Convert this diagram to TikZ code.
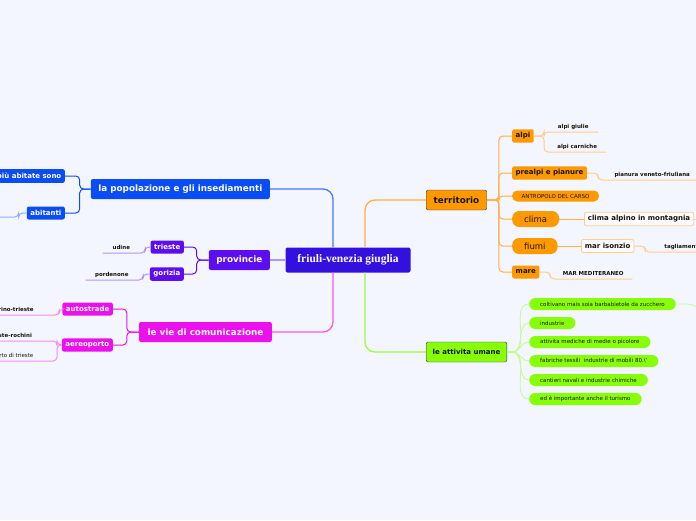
\documentclass[tikz,border=0pt]{standalone}
\usepackage{fontspec}
\setmainfont{Liberation Serif}
\setsansfont{DejaVu Sans}
\definecolor{bgcol}{RGB}{243,246,254}
\definecolor{fvgcol}{RGB}{52,16,222}
\definecolor{popcol}{RGB}{10,76,245}
\definecolor{provcol}{RGB}{92,14,240}
\definecolor{viecol}{RGB}{236,16,236}
\definecolor{tercol}{RGB}{255,153,0}
\definecolor{actcol}{RGB}{136,255,10}
\definecolor{framecol}{RGB}{55,55,55}
\definecolor{darktext}{RGB}{25,20,10}
\definecolor{lightbox}{RGB}{250,250,255}
\definecolor{linkblue}{RGB}{70,120,250}
\definecolor{linkmag}{RGB}{240,90,240}
\definecolor{linkorange}{RGB}{255,175,70}
\definecolor{linkgreen}{RGB}{160,250,60}
\definecolor{linkpurple}{RGB}{175,150,245}
\definecolor{leafline}{RGB}{255,205,140}
\definecolor{greenline}{RGB}{195,250,150}
\tikzset{
  topic/.style={rounded corners=2pt, text=white, inner xsep=7.5pt, minimum height=20pt,
    font=\sffamily\bfseries\fontsize{8.8}{10}\selectfont},
  subtopic/.style={rounded corners=2pt, text=white, inner xsep=3.5pt, minimum height=13pt,
    font=\sffamily\bfseries\fontsize{7}{8}\selectfont},
  terbox/.style={subtopic, fill=tercol, text=darktext, anchor=west},
  terpill/.style={rounded corners=7pt, fill=tercol, text=darktext, anchor=west, inner xsep=12pt,
    minimum height=16pt, font=\sffamily\fontsize{8.5}{9}\selectfont},
  frame/.style={subtopic, fill=lightbox, draw=leafline, line width=0.8pt, text=darktext, anchor=west},
  leaf/.style={inner sep=0pt, minimum height=10pt, minimum width=#1, text=darktext,
    font=\sffamily\bfseries\fontsize{5.5}{6}\selectfont},
  actpill/.style={rounded corners=6pt, fill=actcol, text=darktext, anchor=west, inner xsep=11pt,
    minimum height=12pt, font=\sffamily\fontsize{5.5}{6}\selectfont},
  link/.style={line width=1.3pt, rounded corners=10pt},
  sublink/.style={line width=1pt, rounded corners=4pt}
}
\begin{document}
\begin{tikzpicture}[x=1pt,y=-1pt]
  \useasboundingbox (0,0) rectangle (696,520);
  \clip (0,0) rectangle (696,520);
  \fill[bgcol] (0,0) rectangle (696,520);

  % centre and main branches
  \node[fill=fvgcol, rounded corners=2pt, text=white, minimum width=125pt, minimum height=25pt,
    font=\bfseries\fontsize{11.5}{13}\selectfont] (fvg) at (348,260) {friuli-venezia giuglia};
  \node[topic, fill=popcol, anchor=east] (pop) at (270,189) {la popolazione e gli insediamenti};
  \node[topic, fill=provcol, anchor=east] (prov) at (270,260) {provincie};
  \node[topic, fill=viecol, anchor=east, inner xsep=8.5pt] (vie) at (272,332) {le vie di comunicazione};
  \node[topic, fill=tercol, draw=framecol, text=darktext, anchor=west] (ter) at (426,200) {territorio};
  \node[topic, fill=actcol, draw=framecol, text=darktext, anchor=west, inner xsep=6.5pt,
    font=\sffamily\bfseries\fontsize{7}{8}\selectfont] (att) at (426,352) {le attivita umane};

  \draw[link, linkblue] (pop.east) -| ([xshift=-15pt]fvg.north);
  \draw[link, linkmag] (vie.east) -| ([xshift=-15pt]fvg.south);
  \draw[link, linkorange] (ter.west) -| ([xshift=17pt]fvg.north);
  \draw[link, linkgreen] (att.west) -| ([xshift=17pt]fvg.south);
  \draw[link, linkpurple] (prov.east) -- (fvg.west);

  % popolazione
  \node[subtopic, fill=popcol, anchor=east] (piu) at (65,176) {più abitate sono};
  \node[subtopic, fill=popcol, anchor=east] (abit) at (65,213) {abitanti};
  \coordinate (abitend) at (-20,217);
  \draw[sublink, popcol] (pop.west) -- ++(-11,0) |- (piu.east);
  \draw[sublink, popcol] (pop.west) -- ++(-11,0) |- (abit.east);
  \draw[sublink, linkblue!60] (abit.west) -- ++(-8,0) |- (abitend);

  % provincie
  \node[subtopic, fill=provcol, anchor=east] (ts) at (184,247) {trieste};
  \node[subtopic, fill=provcol, anchor=east] (go) at (184,274) {gorizia};
  \node[leaf=37pt, anchor=south east] (udine) at (140,253) {udine};
  \node[leaf=52pt, anchor=south east] (pord) at (138,280) {pordenone};
  \draw[sublink, provcol] (prov.west) -- ++(-12,0) |- (ts.east);
  \draw[sublink, provcol] (prov.west) -- ++(-12,0) |- (go.east);
  \draw[sublink, linkpurple] (ts.west) -| ([xshift=5pt]udine.south east) -- (udine.south west);
  \draw[sublink, linkpurple] (go.west) -| ([xshift=5pt]pord.south east) -- (pord.south west);

  % vie di comunicazione
  \node[subtopic, fill=viecol, anchor=east] (auto) at (113,309) {autostrade};
  \node[subtopic, fill=viecol, anchor=east] (aereo) at (113,345) {aereoporto};
  \node[leaf=82pt, anchor=south east] (tot) at (54,315) {torino-trieste};
  \node[leaf=84pt, anchor=south east] (tsro) at (52,341) {trieste-rochini};
  \node[leaf=90pt, anchor=south east, font=\sffamily\fontsize{5.5}{6}\selectfont] (aerots) at (52,361) {aeroporto di trieste};
  \draw[sublink, viecol] (vie.west) -- ++(-12,0) |- (auto.east);
  \draw[sublink, viecol] (vie.west) -- ++(-12,0) |- (aereo.east);
  \draw[sublink, linkmag!70] (auto.west) -| ([xshift=5pt]tot.south east) -- (tot.south west);
  \draw[sublink, linkmag!70] (aereo.west) -| ([xshift=5pt]tsro.south east) -- (tsro.south west);
  \draw[sublink, linkmag!70] (aereo.west) -| ([xshift=5pt]aerots.south east) -- (aerots.south west);

  % territorio
  \node[terbox] (alpi) at (512,136) {alpi};
  \node[terbox] (prea) at (512,173) {prealpi e pianure};
  \node[rounded corners=5pt, fill=tercol, text=darktext, anchor=west, inner xsep=9.5pt, minimum height=11pt,
    font=\sffamily\fontsize{5.5}{6}\selectfont] (antr) at (512,196) {ANTROPOLO DEL CARSO};
  \node[terpill] (clima) at (512,219) {clima};
  \node[terpill] (fiumi) at (512,246) {fiumi};
  \node[terbox] (mare) at (512,272) {mare};
  \foreach \n in {alpi,prea,antr,clima,fiumi,mare}
    \draw[sublink, linkorange] (ter.east) -- ++(12,0) |- (\n.west);

  \node[leaf=50pt, anchor=south west] (giulie) at (548,132) {alpi giulie};
  \node[leaf=58pt, anchor=south west] (carn) at (548,152) {alpi carniche};
  \node[leaf=100pt, anchor=south west] (pian) at (602,180) {pianura veneto-friuliana};
  \node[frame] (climaalp) at (584,219) {clima alpino in montagnia};
  \node[frame] (isonzo) at (581,246) {mar isonzio};
  \node[leaf=66pt, anchor=south west] (tagl) at (650,252) {tagliamento};
  \node[leaf=78pt, anchor=south west] (mmed) at (554,279) {MAR MEDITERANEO};
  \coordinate (climaend) at (710,219);
  \draw[sublink, leafline] (alpi.east) -| ([xshift=-4pt]giulie.south west) -- (giulie.south east);
  \draw[sublink, leafline] (alpi.east) -| ([xshift=-4pt]carn.south west) -- (carn.south east);
  \draw[sublink, leafline] (prea.east) -| ([xshift=-4pt]pian.south west) -- (pian.south east);
  \draw[sublink, linkorange] (clima.east) -- (climaalp.west);
  \draw[sublink, leafline] (climaalp.east) -- (climaend);
  \draw[sublink, linkorange] (fiumi.east) -- (isonzo.west);
  \draw[sublink, leafline] (isonzo.east) -| ([xshift=-5pt]tagl.south west) -- (tagl.south east);
  \draw[sublink, leafline] (mare.east) -| ([xshift=-4pt]mmed.south west) -- (mmed.south east);

  % attivita umane
  \node[actpill] (g1) at (529,304) {coltivano mais soia barbabietole da zucchero};
  \node[actpill] (g2) at (529,323) {industrie};
  \node[actpill] (g3) at (529,342) {attivita mediche di medie o picolore};
  \node[actpill] (g4) at (529,361) {fabriche tessili\ \ industrie di mobili 80.\textbackslash'};
  \node[actpill] (g5) at (529,380) {cantieri navali e industrie chimiche};
  \node[actpill] (g6) at (529,399) {ed è importante anche il turismo};
  \foreach \n in {g1,g2,g3,g4,g5,g6}
    \draw[line width=0.8pt, greenline] (att.east) -- ++(5,0) to[out=0,in=180] (\n.west);
  \coordinate (g1end) at (715,318);
  \draw[line width=0.8pt, greenline] (g1.east) -- ++(10,0) to[out=0,in=160] (g1end);
\end{tikzpicture}
\end{document}
